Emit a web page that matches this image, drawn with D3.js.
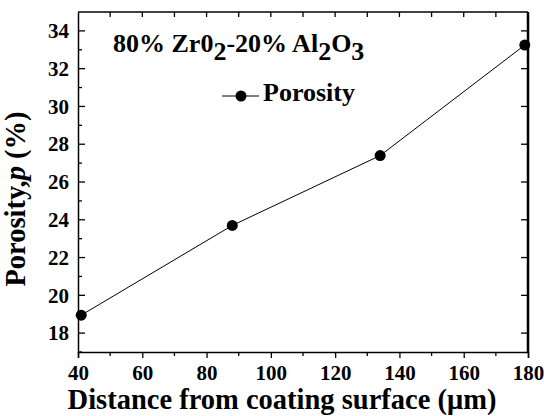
<!DOCTYPE html>
<html>
<head>
<meta charset="utf-8">
<script src="https://cdn.jsdelivr.net/npm/d3@7"></script>
</head>
<body style="margin:0;background:#fff">
<svg id="chart" width="544" height="416" font-family="Liberation Serif, Times New Roman, serif" font-weight="bold"></svg>
<script>
// Porosity measured at increasing depth below the coating surface
const distance = [41, 88, 134, 179];
const porosity = [18.95, 23.7, 27.4, 33.25];
const xTicks = [40, 60, 80, 100, 120, 140, 160, 180];
const yTicks = [18, 20, 22, 24, 26, 28, 30, 32, 34];
const seriesName = "Porosity";

const FONT = "Liberation Serif, Times New Roman, serif";
const svg = d3.select("#chart");
const m = { left: 78, right: 528, top: 12, bottom: 352 };

const x = d3.scaleLinear().domain([40, 180]).range([m.left, m.right]);
const y = d3.scaleLinear().domain([17, 35]).range([m.bottom, m.top]);

const ink = "#000";

function serif(sel, size) {
  return sel.attr("font-family", FONT).attr("font-weight", "bold").attr("font-size", size).attr("fill", ink);
}

// Frame
svg.append("line").attr("x1", m.left).attr("x2", m.right).attr("y1", m.top).attr("y2", m.top)
  .attr("stroke", ink).attr("stroke-width", 1.5);
svg.append("line").attr("x1", m.right).attr("x2", m.right).attr("y1", m.top).attr("y2", m.bottom)
  .attr("stroke", ink).attr("stroke-width", 2.5);

// Bottom axis: outward ticks, minor every 10
const xMinor = d3.range(50, 180, 20);
const bottom = svg.append("g").attr("transform", `translate(0,${m.bottom})`);
bottom.call(d3.axisBottom(x).tickValues(xTicks).tickSize(6).tickPadding(7).tickFormat(d3.format("d")));
bottom.attr("font-family", FONT).attr("font-size", 21).attr("font-weight", "bold");
bottom.call(g => g.select(".domain").attr("stroke-width", 1.5));
bottom.selectAll(".tick line").attr("stroke-width", 1.3);
serif(bottom.selectAll(".tick text"), 21);
bottom.selectAll(".minor").data(xMinor).enter().append("line")
  .attr("x1", d => x(d)).attr("x2", d => x(d)).attr("y1", 0).attr("y2", 4)
  .attr("stroke", ink).attr("stroke-width", 1.3);

// Top axis: inward ticks every 10
svg.append("g").selectAll("line").data(d3.range(50, 180, 10)).enter().append("line")
  .attr("x1", d => x(d)).attr("x2", d => x(d)).attr("y1", m.top).attr("y2", m.top + 5)
  .attr("stroke", ink).attr("stroke-width", 1.3);

// Left axis: inward ticks, minor every 1
const left = svg.append("g").attr("transform", `translate(${m.left},0)`);
left.call(d3.axisLeft(y).tickValues(yTicks).tickSize(0).tickPadding(9).tickFormat(d3.format("d")));
left.attr("font-family", FONT).attr("font-size", 21).attr("font-weight", "bold");
left.call(g => g.select(".domain").attr("stroke-width", 1.5));
serif(left.selectAll(".tick text"), 21);
left.selectAll(".maj").data(yTicks).enter().append("line")
  .attr("x1", 0).attr("x2", 7).attr("y1", d => y(d)).attr("y2", d => y(d))
  .attr("stroke", ink).attr("stroke-width", 1.3);
left.selectAll(".min").data(d3.range(17, 35, 2)).enter().append("line")
  .attr("x1", 0).attr("x2", 4).attr("y1", d => y(d)).attr("y2", d => y(d))
  .attr("stroke", ink).attr("stroke-width", 1.3);

// Right axis: inward major ticks
svg.append("g").selectAll("line").data(yTicks).enter().append("line")
  .attr("x1", m.right - 7).attr("x2", m.right).attr("y1", d => y(d)).attr("y2", d => y(d))
  .attr("stroke", ink).attr("stroke-width", 1.3);

// Data line and markers
const pts = distance.map((d, i) => [d, porosity[i]]);
svg.append("path").datum(pts)
  .attr("fill", "none").attr("stroke", ink).attr("stroke-width", 1)
  .attr("d", d3.line().x(d => x(d[0])).y(d => y(d[1])));
svg.append("g").selectAll("circle").data(pts).enter().append("circle")
  .attr("cx", d => x(d[0])).attr("cy", d => y(d[1])).attr("r", 5.5).attr("fill", ink);

// Composition label
const title = serif(svg.append("text").attr("x", 113).attr("y", 52), 26);
title.append("tspan").text("80% Zr0");
title.append("tspan").attr("dy", 8).text("2");
title.append("tspan").attr("dy", -8).text("-20% Al");
title.append("tspan").attr("dy", 8).text("2");
title.append("tspan").attr("dy", -8).text("O");
title.append("tspan").attr("dy", 8).text("3");

// Legend
const lg = svg.append("g").attr("transform", "translate(222,96)");
lg.append("line").attr("x1", 0).attr("x2", 37).attr("y1", 0).attr("y2", 0).attr("stroke", ink).attr("stroke-width", 1);
lg.append("circle").attr("cx", 19).attr("cy", 0).attr("r", 5.5).attr("fill", ink);
serif(lg.append("text").attr("x", 41).attr("y", 5), 26).text(seriesName);

// Axis titles
serif(svg.append("text").attr("x", 282).attr("y", 409).attr("text-anchor", "middle"), 28.5)
  .text("Distance from coating surface (\u03bcm)");
const yl = serif(svg.append("text").attr("transform", "translate(25,199) rotate(-90)")
  .attr("text-anchor", "middle"), 28.5);
yl.append("tspan").text("Porosity,");
yl.append("tspan").attr("font-style", "italic").text("p");
yl.append("tspan").text(" (%)");
</script>
</body>
</html>
